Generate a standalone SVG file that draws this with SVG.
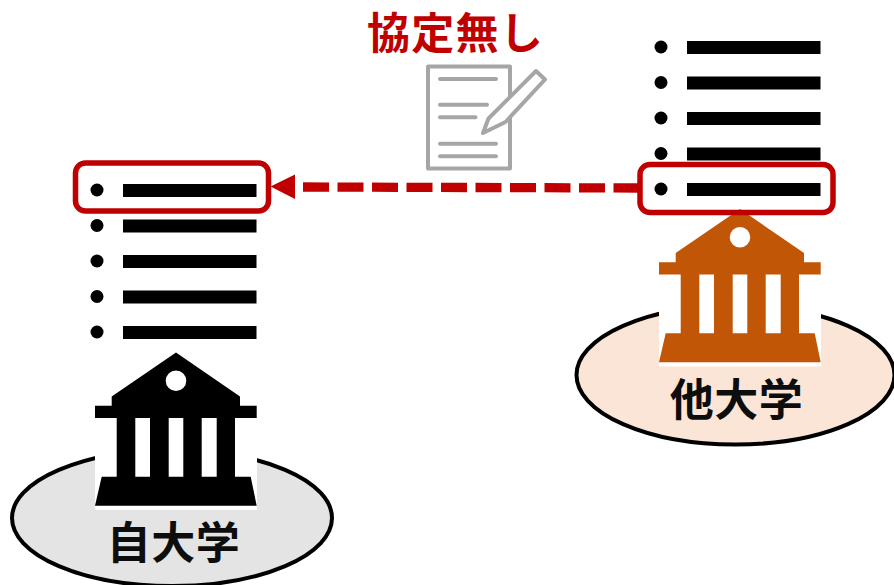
<svg xmlns="http://www.w3.org/2000/svg" width="894" height="585" viewBox="0 0 894 585">
<style>
.uni{stroke:#000;stroke-width:4}
.bar{fill:#000}
.hl{fill:none;stroke:#c00000;stroke-width:5.5}
.doc{fill:none;stroke:#a6a6a6;stroke-width:4;stroke-linecap:round;stroke-linejoin:round}
text{font-family:"Noto Sans CJK JP","Noto Sans CJK SC",sans-serif;font-weight:700;text-anchor:middle}
.lbl{font-size:44px;letter-spacing:.5px;fill:#0d0d0d}
.red{font-size:43px;letter-spacing:1.2px;fill:#c00000}
</style>
<defs>
<path id="bank" fill-rule="evenodd" d="M176 352.500L240 396.500V405.700H256.700V418H235V476.700H250.700L256.700 505.700H95L101.700 476.700H116.700V418H95V405.700H111.700V396.500ZM135.300 418V476.700H150V418ZM168.700 418V476.700H183.300V418ZM201.700 418V476.700H216.700V418ZM186.300 380.700A10.300 10.300 0 1 0 165.700 380.700A10.300 10.300 0 1 0 186.300 380.700Z"/>
<g id="list">
<circle cx="97" cy="190" r="6.500"/><rect class="bar" x="123" y="184" width="133.500" height="13"/>
<circle cx="97" cy="225.500" r="6.500"/><rect class="bar" x="123" y="219.500" width="133.500" height="13"/>
<circle cx="97" cy="261" r="6.500"/><rect class="bar" x="123" y="255" width="133.500" height="13"/>
<circle cx="97" cy="296.500" r="6.500"/><rect class="bar" x="123" y="290.500" width="133.500" height="13"/>
<circle cx="97" cy="332" r="6.500"/><rect class="bar" x="123" y="326" width="133.500" height="13"/>
</g>
</defs>
<g id="own-university">
<ellipse class="uni" cx="172" cy="518" rx="160" ry="68" fill="#e4e4e4"/>
<rect x="95" y="440" width="162" height="70" fill="#fff"/>
<use href="#bank"/>
<text class="lbl" x="173.500" y="559">自大学</text>
</g>
<g id="own-list"><use href="#list"/></g>
<g id="other-university">
<ellipse class="uni" cx="735.500" cy="375" rx="159" ry="69.500" fill="#fbe5d6"/>
<rect x="659" y="300" width="162" height="66.500" fill="#fff"/>
<use href="#bank" x="564" y="-143.500" fill="#c05606"/>
<text class="lbl" x="736.500" y="416">他大学</text>
</g>
<g id="other-list"><use href="#list" x="564" y="-143"/></g>
<g id="agreement-document">
<rect class="doc" x="428" y="66.500" width="82" height="102"/>
<path class="doc" d="M440 79H496M440 104.700H487M440 117.300H475.500M440 143.700H496M440 156.300H496"/>
<path class="doc" style="fill:#fff" d="M483 133L488.500 118.500L536 71L545 79.500L505.500 122Z"/>
</g>
<g id="label"><text class="red" x="455.500" y="49">協定無し</text></g>
<g id="connectors">
<line x1="303" y1="187" x2="638" y2="188" stroke="#c00000" stroke-width="9.300" stroke-dasharray="26 8.500"/>
<polygon points="270.500,186.500 295,174.500 295,199" fill="#c00000"/>
</g>
<g id="highlights">
<rect class="hl" x="75.500" y="163" width="193" height="48" rx="10"/>
<rect class="hl" x="640" y="164.500" width="193" height="48" rx="10"/>
</g>
</svg>
